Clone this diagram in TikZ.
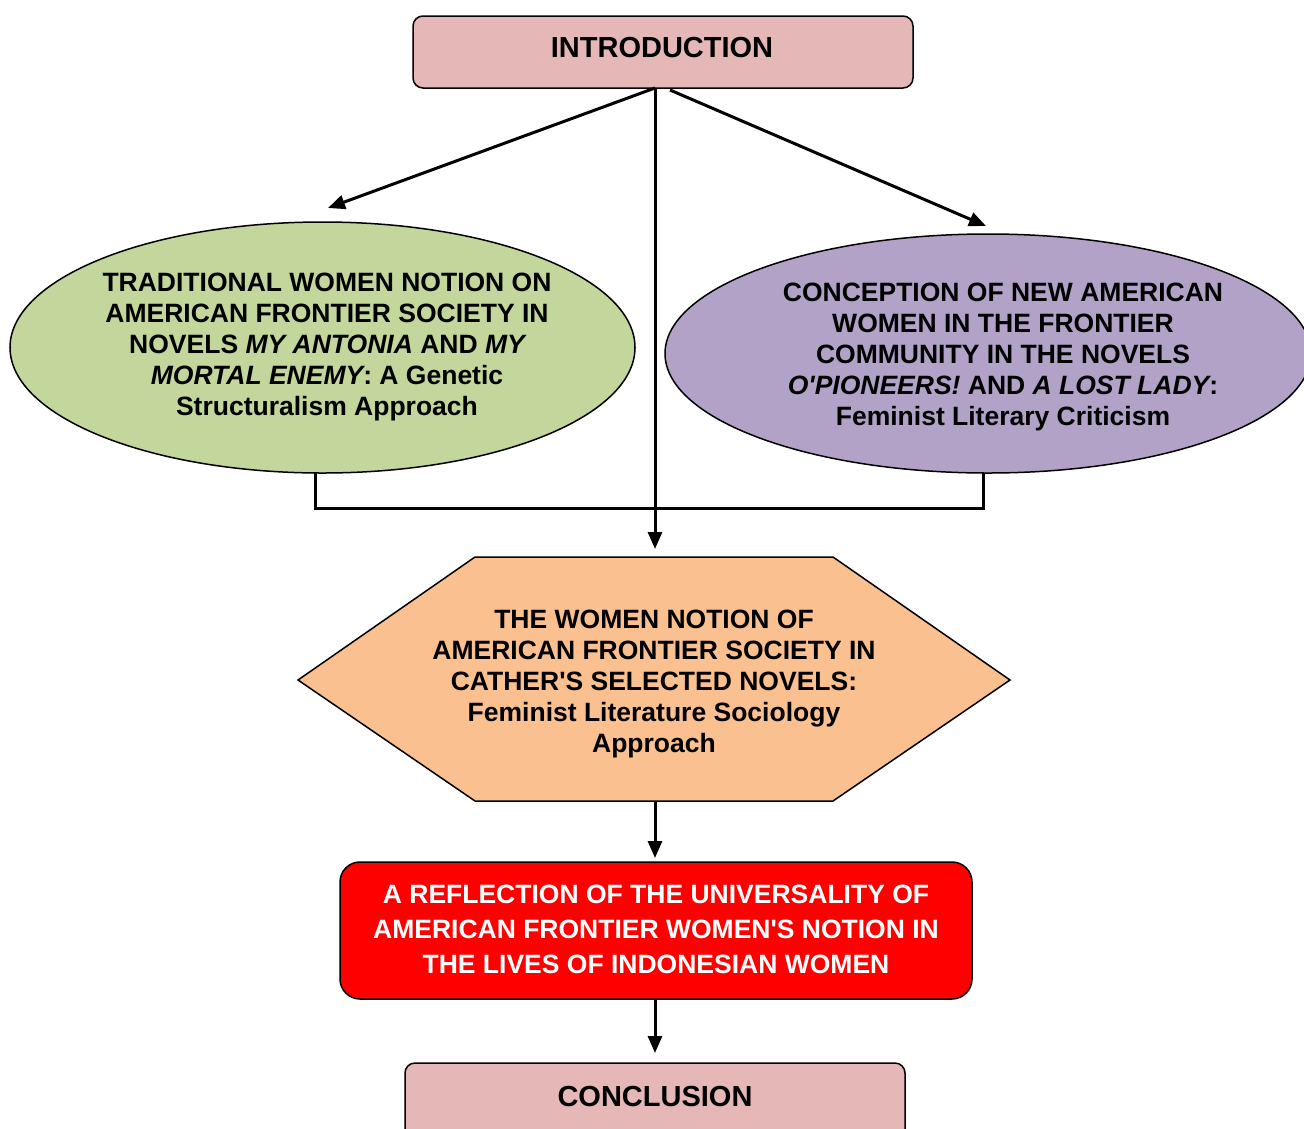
\documentclass[tikz,border=0pt]{standalone}
\usepackage{fontspec}
\setmainfont{Liberation Sans}
\usetikzlibrary{shapes.geometric,arrows.meta}
\definecolor{boxpink}{HTML}{E5B8B7}
\definecolor{ellgreen}{HTML}{C3D69B}
\definecolor{ellpurple}{HTML}{B2A2C7}
\definecolor{hexorange}{HTML}{FAC090}
\definecolor{boxred}{HTML}{FF0000}
\newcommand{\apos}{\textquotesingle}
\begin{document}
\begin{tikzpicture}[x=1pt,y=-1pt,
  endbox/.style={draw=black,line width=1.5pt,rounded corners=10pt,fill=boxpink,inner sep=0pt,outer sep=0pt},
  oval/.style={ellipse,draw=black,line width=1.5pt,inner sep=0pt,outer sep=0pt},
  txt/.style={align=center,font=\bfseries\fontsize{26.5}{31}\selectfont,inner sep=0pt},
  ttl/.style={font=\bfseries\fontsize{29}{34}\selectfont,inner sep=0pt},
  conn/.style={line width=3pt,-{Triangle[length=17pt,width=14pt]}},
  link/.style={line width=3pt}]
\useasboundingbox (0,0) rectangle (1304,1128);
% Introduction
\node[endbox,minimum width=500pt,minimum height=72pt] (intro) at (663,52) {};
\node[ttl] (introT) at (662,48) {INTRODUCTION};
% Ellipses
\node[oval,fill=ellgreen,minimum width=625pt,minimum height=251pt] (left) at (322.5,347.5) {};
\node[txt] (leftT) at (327,346.5) {TRADITIONAL WOMEN NOTION ON\\AMERICAN FRONTIER SOCIETY IN\\NOVELS {\itshape MY ANTONIA} AND {\itshape MY}\\{\itshape MORTAL ENEMY}: A Genetic\\Structuralism Approach};
\node[oval,fill=ellpurple,minimum width=646pt,minimum height=239pt] (right) at (988,353.5) {};
\node[txt] (rightT) at (1003,357) {CONCEPTION OF NEW AMERICAN\\WOMEN IN THE FRONTIER\\COMMUNITY IN THE NOVELS\\{\itshape O\apos PIONEERS!} AND {\itshape A LOST LADY}:\\Feminist Literary Criticism};
% Hexagon
\filldraw[fill=hexorange,draw=black,line width=1.5pt] (475,557) -- (833,557) -- (1010,680) -- (833,801) -- (475,801) -- (298,680) -- cycle;
\node[txt] (hexT) at (654,684) {THE WOMEN NOTION OF\\AMERICAN FRONTIER SOCIETY IN\\CATHER\apos S SELECTED NOVELS:\\Feminist Literature Sociology\\Approach};
\coordinate (hexTip) at (655,549);
\coordinate (hexBot) at (655,801);
% Red box
\node[draw=black,line width=1.5pt,rounded corners=20pt,fill=boxred,minimum width=632pt,minimum height=137pt,inner sep=0pt,outer sep=0pt] (refl) at (656,930.5) {};
\node[txt,text=white,font=\bfseries\fontsize{26.5}{35}\selectfont] (reflT) at (656,929) {A REFLECTION OF THE UNIVERSALITY OF\\AMERICAN FRONTIER WOMEN\apos S NOTION IN\\THE LIVES OF INDONESIAN WOMEN};
% Conclusion
\node[endbox,minimum width=500pt,minimum height=80pt] (concl) at (655,1103) {};
\node[ttl] (conclT) at (655,1097) {CONCLUSION};
% Connectors
\coordinate (introL) at (655,88);
\coordinate (introR) at (670,90);
\coordinate (leftTip) at (328,208);
\coordinate (rightTip) at (986,226);
\draw[conn] (introL) -- (leftTip);
\draw[conn] (introR) -- (rightTip);
\draw[conn] (introL) -- (hexTip);
\coordinate (lb) at (315,473);
\coordinate (rb) at (983,473);
\draw[link] (lb) -- (315,508) -- (983,508) -- (rb);
\coordinate (reflTop) at (655,858);
\coordinate (reflBot) at (655,999);
\coordinate (conclTop) at (655,1053);
\draw[conn] (hexBot) -- (reflTop);
\draw[conn] (reflBot) -- (conclTop);
\end{tikzpicture}
\end{document}
